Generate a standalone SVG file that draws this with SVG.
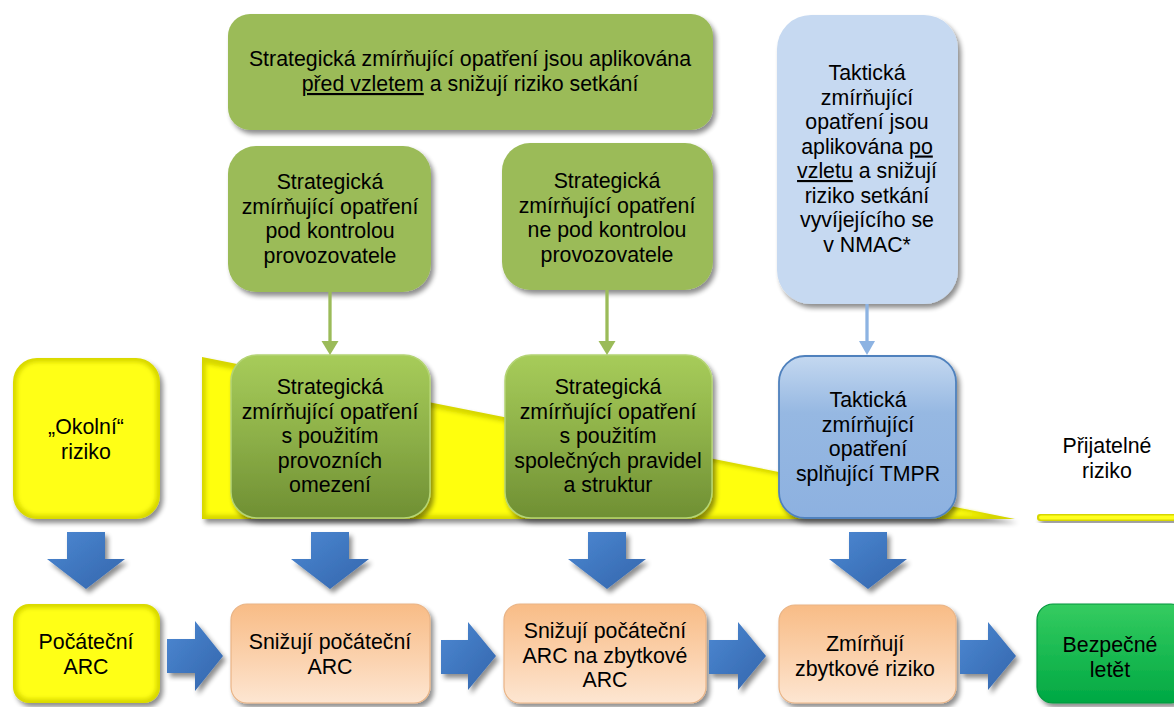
<svg xmlns="http://www.w3.org/2000/svg" width="1174" height="707" viewBox="0 0 1174 707">
  <defs>
    <style>
      .t { font-family: "Liberation Sans", Arial, sans-serif; font-size: 21.33px; fill: #000; text-anchor: middle; }
      .flat-green { fill: #9BBB59; }
      .flat-blue { fill: #C6D9F1; }
      .block { fill: url(#blockArrow); }
    </style>
    <filter id="shadow" x="-10%" y="-10%" width="125%" height="130%">
      <feGaussianBlur in="SourceAlpha" stdDeviation="2.5"/>
      <feOffset dx="3" dy="4" result="o"/>
      <feComponentTransfer><feFuncA type="linear" slope="0.45"/></feComponentTransfer>
      <feMerge><feMergeNode/><feMergeNode in="SourceGraphic"/></feMerge>
    </filter>
    <filter id="soft" x="-10%" y="-10%" width="120%" height="120%">
      <feGaussianBlur stdDeviation="2.2"/>
    </filter>
    <linearGradient id="gMid" x1="0" y1="0" x2="0" y2="1">
      <stop offset="0" stop-color="#A7CC5A"/>
      <stop offset="0.5" stop-color="#8DB048"/>
      <stop offset="1" stop-color="#6F8F33"/>
    </linearGradient>
    <linearGradient id="bMid" x1="0" y1="0" x2="0" y2="1">
      <stop offset="0" stop-color="#C4D8F0"/>
      <stop offset="0.35" stop-color="#96B8E2"/>
      <stop offset="1" stop-color="#8DB1E0"/>
    </linearGradient>
    <linearGradient id="orange" x1="0" y1="0" x2="0" y2="1">
      <stop offset="0" stop-color="#F8BC86"/>
      <stop offset="0.55" stop-color="#FBD2AE"/>
      <stop offset="1" stop-color="#FDE6D2"/>
    </linearGradient>
    <linearGradient id="green" x1="0" y1="0" x2="0" y2="1">
      <stop offset="0" stop-color="#35CC60"/>
      <stop offset="1" stop-color="#00A843"/>
    </linearGradient>
    <linearGradient id="blockArrow" x1="0" y1="0" x2="1" y2="1">
      <stop offset="0" stop-color="#4C88D2"/>
      <stop offset="1" stop-color="#3365AC"/>
    </linearGradient>
  </defs>

  <rect width="1174" height="707" fill="#FFFFFF"/>

  <!-- risk wedge narrowing towards acceptable risk -->
  <g id="risk-wedge">
    <polygon points="202,357 1015,519 202,519" fill="#D6D600" filter="url(#shadow)"/>
    <polygon points="206,364 990,516 206,515" fill="#FFFF10" filter="url(#soft)"/>
  </g>
  <g id="acceptable-level">
    <rect x="1037" y="514" width="150" height="7" rx="3" fill="#D6D600" filter="url(#shadow)"/>
    <rect x="1039" y="515.5" width="150" height="4" rx="2" fill="#FFFF20"/>
  </g>

  <!-- top row -->
  <g id="strategic-before">
    <rect x="228" y="14" width="485" height="116" rx="22" class="flat-green" filter="url(#shadow)"/>
    <text class="t" x="470" y="66">Strategická zmírňující opatření jsou aplikována</text>
    <text class="t" x="470" y="91"><tspan text-decoration="underline">před vzletem</tspan> a snižují riziko setkání</text>
  </g>
  <g id="strategic-operator">
    <rect x="228" y="146" width="203" height="146" rx="28" class="flat-green" filter="url(#shadow)"/>
    <text class="t" x="330" y="189">Strategická</text>
    <text class="t" x="330" y="213.5">zmírňující opatření</text>
    <text class="t" x="330" y="238">pod kontrolou</text>
    <text class="t" x="330" y="262.5">provozovatele</text>
  </g>
  <g id="strategic-non-operator">
    <rect x="502" y="143" width="211" height="147" rx="28" class="flat-green" filter="url(#shadow)"/>
    <text class="t" x="607" y="188">Strategická</text>
    <text class="t" x="607" y="212.5">zmírňující opatření</text>
    <text class="t" x="607" y="237">ne pod kontrolou</text>
    <text class="t" x="607" y="261.5">provozovatele</text>
  </g>
  <g id="tactical-after">
    <rect x="777" y="15" width="181" height="289" rx="34" class="flat-blue" filter="url(#shadow)"/>
    <text class="t" x="867" y="80">Taktická</text>
    <text class="t" x="867" y="104.5">zmírňující</text>
    <text class="t" x="867" y="129">opatření jsou</text>
    <text class="t" x="867" y="153.5">aplikována <tspan text-decoration="underline">po</tspan></text>
    <text class="t" x="867" y="178"><tspan text-decoration="underline">vzletu</tspan> a snižují</text>
    <text class="t" x="867" y="202.5">riziko setkání</text>
    <text class="t" x="867" y="227">vyvíjejícího se</text>
    <text class="t" x="867" y="251.5">v NMAC*</text>
  </g>

  <!-- middle row -->
  <g id="ambient-risk">
    <rect x="13" y="358" width="147" height="161" rx="24" fill="#D8D800" filter="url(#shadow)"/>
    <rect x="17" y="362" width="139" height="153" rx="21" fill="#FFFF14" filter="url(#soft)"/>
    <text class="t" x="86" y="434">„Okolní“</text>
    <text class="t" x="86" y="458.5">riziko</text>
  </g>
  <g id="operational-limits">
    <rect x="231" y="355" width="199" height="163" rx="26" fill="url(#gMid)" stroke="#B4D474" stroke-width="1.5" filter="url(#shadow)"/>
    <text class="t" x="330" y="394">Strategická</text>
    <text class="t" x="330" y="418.5">zmírňující opatření</text>
    <text class="t" x="330" y="443">s použitím</text>
    <text class="t" x="330" y="467.5">provozních</text>
    <text class="t" x="330" y="492">omezení</text>
  </g>
  <g id="common-rules">
    <rect x="505" y="355" width="207" height="163" rx="26" fill="url(#gMid)" stroke="#B4D474" stroke-width="1.5" filter="url(#shadow)"/>
    <text class="t" x="608" y="394">Strategická</text>
    <text class="t" x="608" y="418.5">zmírňující opatření</text>
    <text class="t" x="608" y="443">s použitím</text>
    <text class="t" x="608" y="467.5">společných pravidel</text>
    <text class="t" x="608" y="492">a struktur</text>
  </g>
  <g id="tactical-tmpr">
    <rect x="779" y="356" width="177" height="162" rx="26" fill="url(#bMid)" stroke="#4F81BD" stroke-width="1.8" filter="url(#shadow)"/>
    <text class="t" x="868" y="407">Taktická</text>
    <text class="t" x="868" y="431.5">zmírňující</text>
    <text class="t" x="868" y="456">opatření</text>
    <text class="t" x="868" y="480.5">splňující TMPR</text>
  </g>
  <g id="acceptable-risk">
    <text class="t" x="1107" y="453">Přijatelné</text>
    <text class="t" x="1107" y="477.5">riziko</text>
  </g>

  <!-- bottom row -->
  <g id="initial-arc">
    <rect x="13" y="604" width="147" height="99" rx="16" fill="#D8D800" filter="url(#shadow)"/>
    <rect x="17" y="608" width="139" height="91" rx="13" fill="#FFFF14" filter="url(#soft)"/>
    <text class="t" x="86" y="649">Počáteční</text>
    <text class="t" x="86" y="674">ARC</text>
  </g>
  <g id="reduce-initial-arc">
    <rect x="231" y="604" width="199" height="99" rx="16" fill="url(#orange)" stroke="#E9B486" stroke-width="1.2" filter="url(#shadow)"/>
    <text class="t" x="330" y="649">Snižují počáteční</text>
    <text class="t" x="330" y="674">ARC</text>
  </g>
  <g id="residual-arc">
    <rect x="504" y="604" width="202" height="99" rx="16" fill="url(#orange)" stroke="#E9B486" stroke-width="1.2" filter="url(#shadow)"/>
    <text class="t" x="605" y="638">Snižují počáteční</text>
    <text class="t" x="605" y="662.5">ARC na zbytkové</text>
    <text class="t" x="605" y="687">ARC</text>
  </g>
  <g id="mitigate-residual">
    <rect x="779" y="605" width="177" height="98" rx="16" fill="url(#orange)" stroke="#E9B486" stroke-width="1.2" filter="url(#shadow)"/>
    <text class="t" x="865" y="651">Zmírňují</text>
    <text class="t" x="865" y="675.5">zbytkové riziko</text>
  </g>
  <g id="safe-flight">
    <rect x="1037" y="604" width="150" height="99" rx="16" fill="url(#green)" stroke="#00963C" stroke-width="1.2" filter="url(#shadow)"/>
    <text class="t" x="1110" y="652">Bezpečné</text>
    <text class="t" x="1110" y="676.5">letět</text>
  </g>

  <!-- connectors -->
  <g id="connectors">
    <line x1="330" y1="292" x2="330" y2="343" stroke="#9BBB59" stroke-width="3.3"/>
    <polygon points="321.5,341 338.5,341 330,355" fill="#9BBB59"/>
    <line x1="607" y1="290" x2="607" y2="343" stroke="#9BBB59" stroke-width="3.3"/>
    <polygon points="598.5,341 615.5,341 607,355" fill="#9BBB59"/>
    <line x1="867" y1="304" x2="867" y2="343" stroke="#8DB3E2" stroke-width="3.3"/>
    <polygon points="859,341 875,341 867,355" fill="#8DB3E2"/>

    <g filter="url(#shadow)">
      <polygon class="block" points="67,532 105,532 105,559 125,559 86,589 47,559 67,559"/>
      <polygon class="block" points="311,532 349,532 349,559 369,559 330,589 291,559 311,559"/>
      <polygon class="block" points="588,532 626,532 626,559 646,559 607,589 568,559 588,559"/>
      <polygon class="block" points="849,532 887,532 887,559 907,559 868,589 829,559 849,559"/>

      <polygon class="block" points="167,639 195,639 195,621 223,656 195,691 195,673 167,673"/>
      <polygon class="block" points="441,640 468,640 468,622 496,656 468,690 468,674 441,674"/>
      <polygon class="block" points="709,640 738,640 738,622 766,656 738,690 738,674 709,674"/>
      <polygon class="block" points="960,640 988,640 988,622 1016,656 988,690 988,674 960,674"/>
    </g>
  </g>
</svg>
